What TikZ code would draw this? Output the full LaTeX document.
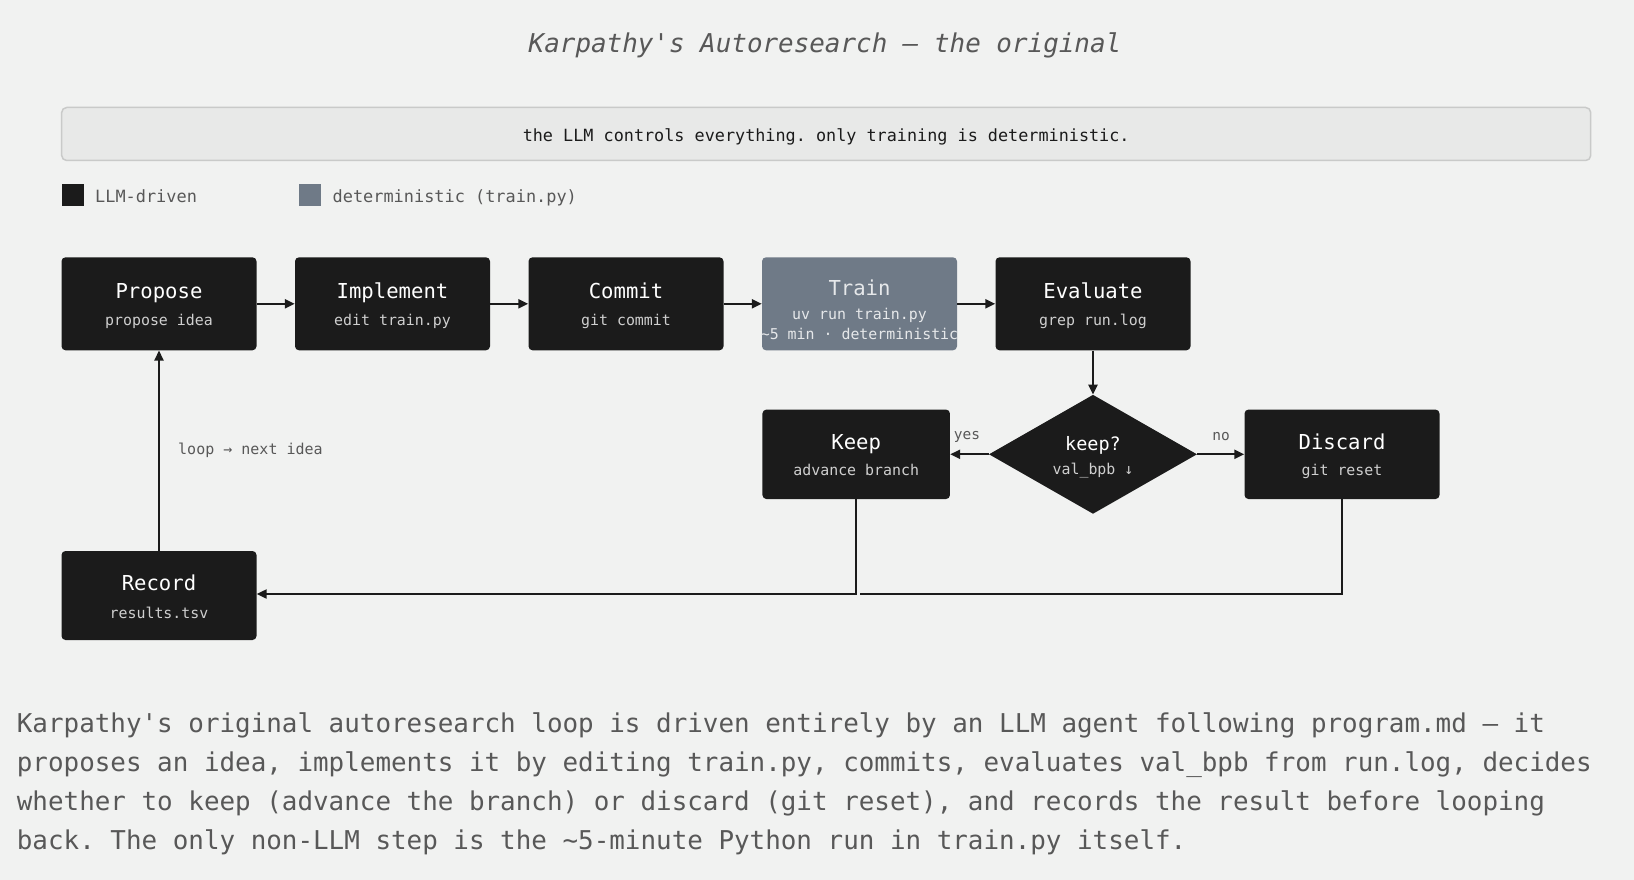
\documentclass[tikz,border=0pt]{standalone}
\usepackage{fontspec}
\setmonofont{DejaVu Sans Mono}
\usetikzlibrary{arrows.meta,shapes.geometric}
\definecolor{bg}{HTML}{F1F2F1}
\definecolor{boxfill}{HTML}{1B1B1B}
\definecolor{detfill}{HTML}{6F7A87}
\definecolor{bannerfill}{HTML}{E8E9E8}
\definecolor{bannerdraw}{HTML}{C9CAC9}
\definecolor{textgray}{HTML}{585858}
\definecolor{subgray}{HTML}{CFCFCF}
\definecolor{detsub}{HTML}{E6E8EA}
\newcommand{\fsz}[1]{\fontsize{#1}{#1}\selectfont}
\begin{document}
\begin{tikzpicture}[x=1pt,y=-1pt,
  box/.style={fill=boxfill, rounded corners=4pt, minimum width=195pt, minimum height=93pt, inner sep=0pt},
  dbox/.style={box, fill=detfill},
  btitle/.style={text=white, font=\ttfamily\fsz{20.6}, text height=.72em, text depth=0pt, inner sep=0pt},
  bsub/.style={text=subgray, font=\ttfamily\fsz{14.9}, text height=.72em, text depth=0pt, inner sep=0pt},
  dsub/.style={bsub, text=detsub},
  flow/.style={draw=boxfill, line width=2.2pt, -{Triangle[length=10pt,width=9pt]}},
  plain/.style={draw=boxfill, line width=2.2pt},
  small/.style={text=textgray, font=\ttfamily\fsz{14.5}, inner sep=0pt},
  legtext/.style={text=textgray, font=\ttfamily\fsz{16.9}, text height=.72em, text depth=0pt, inner sep=0pt, anchor=west},
  para/.style={text=textgray, font=\ttfamily\fsz{25.9}, text height=.72em, text depth=0pt, inner sep=0pt, anchor=west},
  legsq/.style={minimum size=22pt, inner sep=0pt}
]
\fill[bg] (0,0) rectangle (1634,880);
\useasboundingbox (0,0) rectangle (1634,880);

% title
\node[text=textgray, font=\ttfamily\itshape\fsz{25.9}, inner sep=0pt] (title) at (825,45) {Karpathy's Autoresearch — the original};

% banner
\node[fill=bannerfill, draw=bannerdraw, line width=1.5pt, rounded corners=5pt, minimum width=1529pt, minimum height=53pt, inner sep=0pt] (banner) at (826.2,134) {};
\node[text=boxfill, font=\ttfamily\fsz{16.8}, inner sep=0pt] (banner-t) at (826.2,137) {the LLM controls everything. only training is deterministic.};

% legend
\node[legsq, fill=boxfill] (lg1) at (72.5,195.3) {};
\node[legtext] (lg1t) at (95,199) {LLM-driven};
\node[legsq, fill=detfill] (lg2) at (310,195.3) {};
\node[legtext] (lg2t) at (332.5,199) {deterministic (train.py)};

% top row
\node[box] (propose) at (159,303.8) {};
\node[btitle] (propose-t) at (159,294.7) {Propose};
\node[bsub] (propose-s) at (159,322) {propose idea};

\node[box] (implement) at (392.5,303.8) {};
\node[btitle] (implement-t) at (392.5,294.7) {Implement};
\node[bsub] (implement-s) at (392.5,322) {edit train.py};

\node[box] (commit) at (626,303.8) {};
\node[btitle] (commit-t) at (626,294.7) {Commit};
\node[bsub] (commit-s) at (626,322) {git commit};

\node[dbox] (train) at (859.5,303.8) {};
\node[btitle, text=detsub] (train-t) at (859.5,291.6) {Train};
\node[dsub] (train-s1) at (859.5,315.6) {uv run train.py};
\node[dsub] (train-s2) at (859.5,336) {\textasciitilde 5 min · deterministic};

\node[box] (evaluate) at (1093,303.8) {};
\node[btitle] (evaluate-t) at (1093,294.7) {Evaluate};
\node[bsub] (evaluate-s) at (1093,322) {grep run.log};

% decision row
\node[fill=boxfill, shape=diamond, minimum width=208pt, minimum height=119pt, inner sep=0pt] (dia) at (1093,454.3) {};
\node[btitle, font=\ttfamily\fsz{18.5}] (dia-t) at (1093,446.5) {keep?};
\node[bsub] (dia-s) at (1093,471) {val\_bpb ↓};

\node[box, minimum width=187.5pt, minimum height=89.5pt] (keep) at (856.2,454.3) {};
\node[btitle] (keep-t) at (856.2,445.8) {Keep};
\node[bsub] (keep-s) at (856.2,472) {advance branch};

\node[box, minimum height=89.5pt] (discard) at (1342,454.3) {};
\node[btitle] (discard-t) at (1342,445.8) {Discard};
\node[bsub] (discard-s) at (1342,472) {git reset};

\node[box, minimum height=89pt] (record) at (159,595.5) {};
\node[btitle] (record-t) at (159,586.5) {Record};
\node[bsub] (record-s) at (159,614.7) {results.tsv};

% connectors
\draw[flow] (propose) -- (implement);
\draw[flow] (implement) -- (commit);
\draw[flow] (commit) -- (train);
\draw[flow] (train) -- (evaluate);
\draw[flow] (evaluate) -- (dia);
\draw[flow] (dia.west) -- (keep.east);
\draw[flow] (dia.east) -- (discard.west);
\node[small] (yes) at (967,436.5) {yes};
\node[small] (no) at (1221,436.5) {no};
\coordinate (recin) at ([yshift=1.5pt]record.east);
\draw[flow] (keep.south) |- (recin);
\coordinate (join) at (860,594);
\draw[plain] (discard.south) |- (join);
\draw[flow] (record) -- (propose);
\node[small, anchor=west, font=\ttfamily\fsz{15}] (loop) at (178,450.5) {loop → next idea};

% paragraph
\node[para] (p1) at (16.7,729) {Karpathy's original autoresearch loop is driven entirely by an LLM agent following program.md — it};
\node[para] (p2) at (16.7,768) {proposes an idea, implements it by editing train.py, commits, evaluates val\_bpb from run.log, decides};
\node[para] (p3) at (16.7,807) {whether to keep (advance the branch) or discard (git reset), and records the result before looping};
\node[para] (p4) at (16.7,846) {back. The only non-LLM step is the \textasciitilde 5-minute Python run in train.py itself.};
\end{tikzpicture}
\end{document}
